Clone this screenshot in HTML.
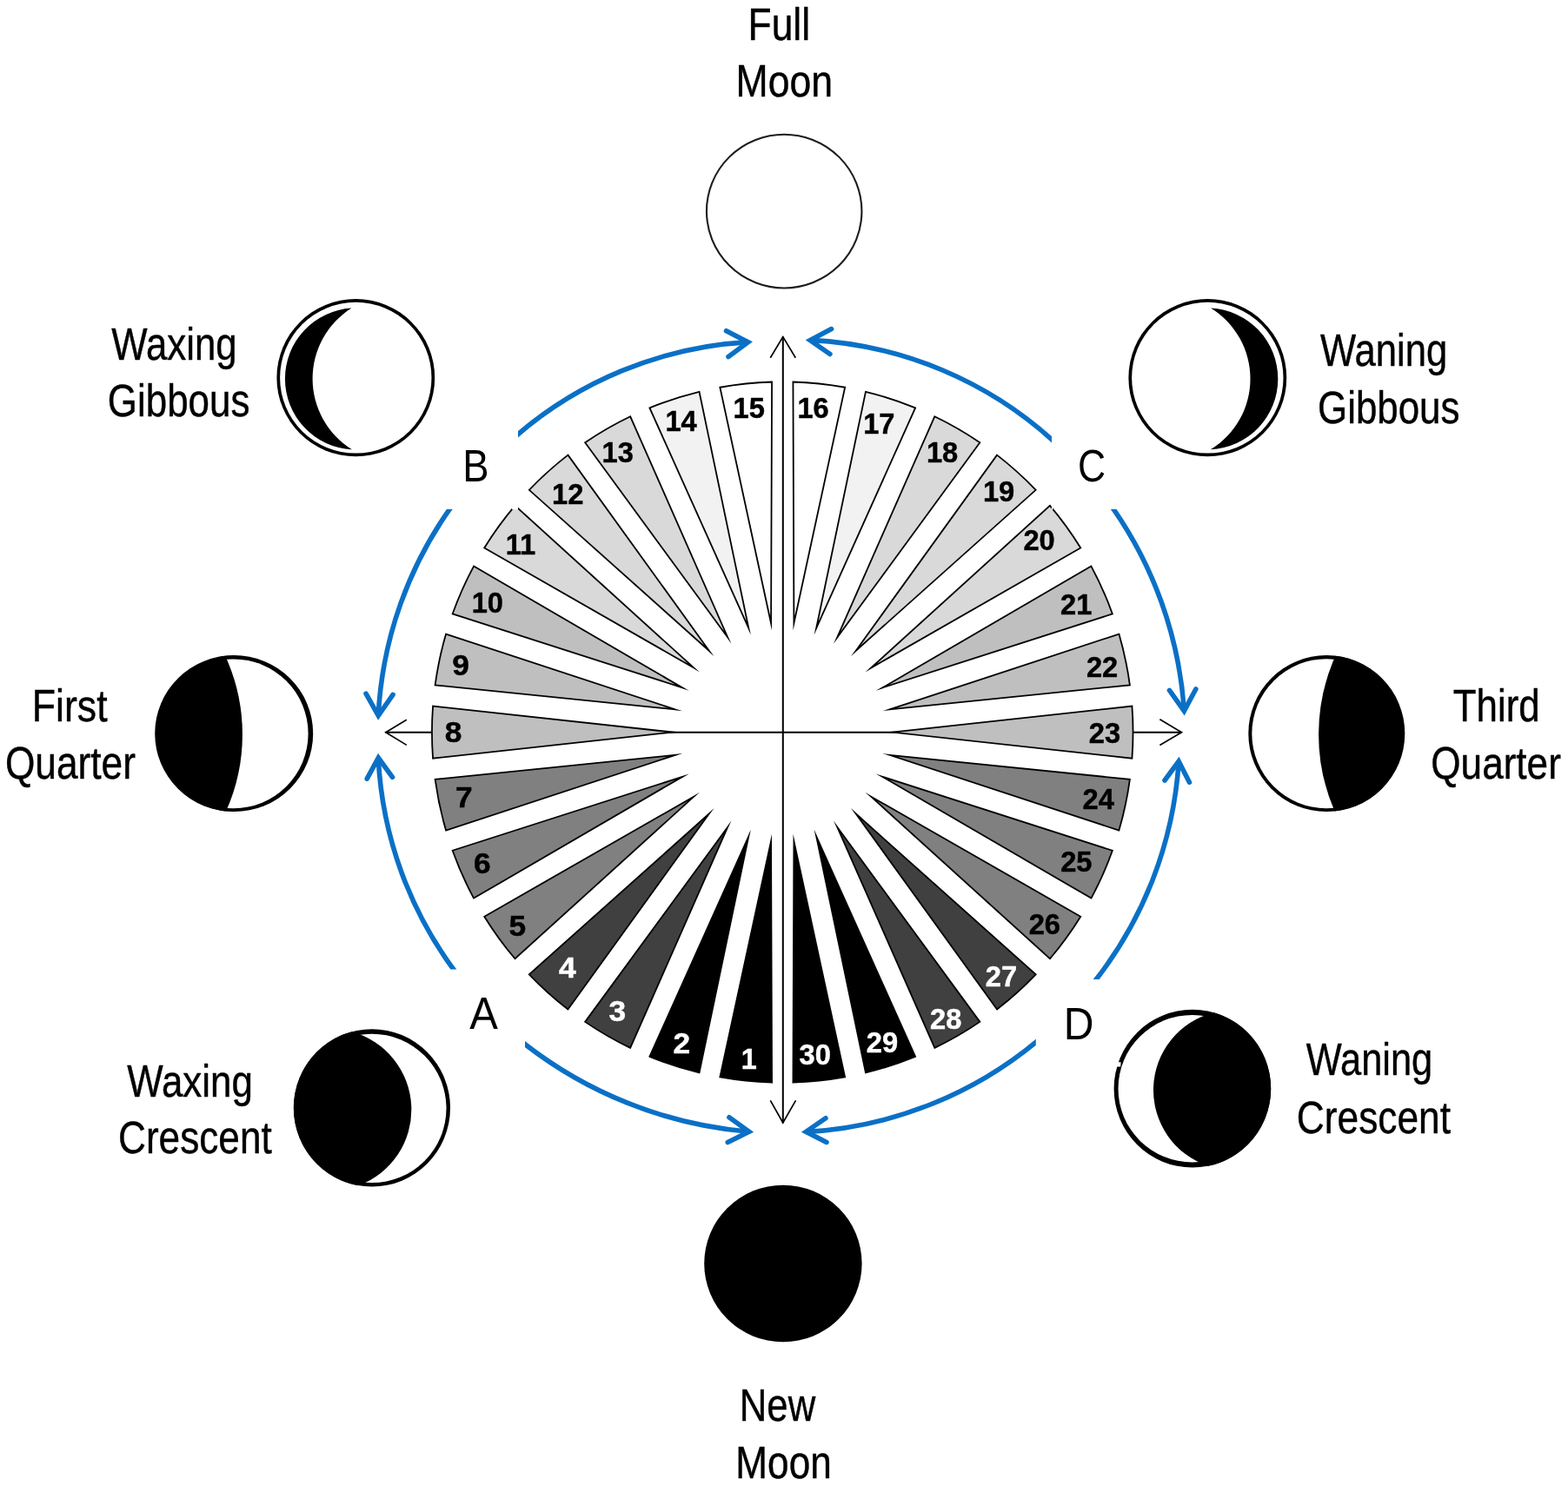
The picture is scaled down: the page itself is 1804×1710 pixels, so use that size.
<!DOCTYPE html>
<html lang="en">
<head>
<meta charset="utf-8">
<title>Moon phases</title>
<style>
html,body{margin:0;padding:0;background:#fff;}
body{width:1804px;height:1710px;overflow:hidden;}
svg{display:block;will-change:transform;}
text{white-space:pre;}
</style>
</head>
<body>
<svg xmlns="http://www.w3.org/2000/svg" width="1804" height="1710" viewBox="0 0 1804 1710">
<rect width="1804" height="1710" fill="#fff"/>
<g stroke="#000" fill="none" stroke-linecap="butt" stroke-linejoin="miter">
<path stroke-width="2.0" d="M443.5 842.7H1359.6"/>
<path stroke-width="2.0" d="M900.8 387.5V1292.2"/>
<path stroke-width="1.7" stroke-miterlimit="10" d="M886.3 411.8L900.8 387.6L915.3 411.8"/>
<path stroke-width="1.7" stroke-miterlimit="10" d="M886.3 1266.3L900.8 1292L915.5 1266.3"/>
<path stroke-width="1.7" stroke-miterlimit="10" d="M467.8 828.2L443.8 842.7L467.8 857.4"/>
<path stroke-width="1.7" stroke-miterlimit="10" d="M1334.4 827.8L1359.4 842.7L1334.4 857.6"/>
</g>
<g stroke="#000" stroke-width="1.8" stroke-linejoin="miter" stroke-miterlimit="20">
<path d="M887.08 967.91L888.07 1245.72A403.3 403.3 0 0 1 828.35 1239.44Z" fill="#000000"/>
<path d="M861.31 962.43L804.53 1234.38A403.3 403.3 0 0 1 747.41 1215.82Z" fill="#000000"/>
<path d="M837.25 951.72L725.17 1205.91A403.3 403.3 0 0 1 673.15 1175.88Z" fill="#404040"/>
<path d="M815.94 936.24L653.45 1161.57A403.3 403.3 0 0 1 608.82 1121.39Z" fill="#404040"/>
<path d="M798.31 916.66L592.53 1103.29A403.3 403.3 0 0 1 557.23 1054.7Z" fill="#808080"/>
<path d="M785.14 893.85L545.05 1033.61A403.3 403.3 0 0 1 520.63 978.75Z" fill="#808080"/>
<path d="M777 868.8L513.1 955.59A403.3 403.3 0 0 1 500.61 896.85Z" fill="#808080"/>
<path d="M774.25 842.6L498.07 872.63A403.3 403.3 0 0 1 498.07 812.57Z" fill="#bfbfbf"/>
<path d="M777 816.4L500.61 788.35A403.3 403.3 0 0 1 513.1 729.61Z" fill="#bfbfbf"/>
<path d="M785.14 791.35L520.63 706.45A403.3 403.3 0 0 1 545.05 651.59Z" fill="#bfbfbf"/>
<path d="M798.31 768.54L557.23 630.5A403.3 403.3 0 0 1 592.53 581.91Z" fill="#d9d9d9"/>
<path d="M815.94 748.96L608.82 563.81A403.3 403.3 0 0 1 653.45 523.63Z" fill="#d9d9d9"/>
<path d="M837.25 733.48L673.15 509.32A403.3 403.3 0 0 1 725.17 479.29Z" fill="#d9d9d9"/>
<path d="M861.31 722.77L747.41 469.38A403.3 403.3 0 0 1 804.53 450.82Z" fill="#f2f2f2"/>
<path d="M887.08 717.29L828.35 445.76A403.3 403.3 0 0 1 888.07 439.48Z" fill="#ffffff"/>
<path d="M913.42 717.29L912.43 439.48A403.3 403.3 0 0 1 972.15 445.76Z" fill="#ffffff"/>
<path d="M939.19 722.77L995.97 450.82A403.3 403.3 0 0 1 1053.09 469.38Z" fill="#f2f2f2"/>
<path d="M963.25 733.48L1075.33 479.29A403.3 403.3 0 0 1 1127.35 509.32Z" fill="#d9d9d9"/>
<path d="M984.56 748.96L1147.05 523.63A403.3 403.3 0 0 1 1191.68 563.81Z" fill="#d9d9d9"/>
<path d="M1002.19 768.54L1207.97 581.91A403.3 403.3 0 0 1 1243.27 630.5Z" fill="#d9d9d9"/>
<path d="M1015.36 791.35L1255.45 651.59A403.3 403.3 0 0 1 1279.87 706.45Z" fill="#bfbfbf"/>
<path d="M1023.5 816.4L1287.4 729.61A403.3 403.3 0 0 1 1299.89 788.35Z" fill="#bfbfbf"/>
<path d="M1026.25 842.6L1302.43 812.57A403.3 403.3 0 0 1 1302.43 872.63Z" fill="#bfbfbf"/>
<path d="M1023.5 868.8L1299.89 896.85A403.3 403.3 0 0 1 1287.4 955.59Z" fill="#808080"/>
<path d="M1015.36 893.85L1279.87 978.75A403.3 403.3 0 0 1 1255.45 1033.61Z" fill="#808080"/>
<path d="M1002.19 916.66L1243.27 1054.7A403.3 403.3 0 0 1 1207.97 1103.29Z" fill="#808080"/>
<path d="M984.56 936.24L1191.68 1121.39A403.3 403.3 0 0 1 1147.05 1161.57Z" fill="#404040"/>
<path d="M963.25 951.72L1127.35 1175.88A403.3 403.3 0 0 1 1075.33 1205.91Z" fill="#404040"/>
<path d="M939.19 962.43L1053.09 1215.82A403.3 403.3 0 0 1 995.97 1234.38Z" fill="#000000"/>
<path d="M913.42 967.91L972.15 1239.44A403.3 403.3 0 0 1 912.43 1245.72Z" fill="#000000"/>
</g>
<rect x="588.9" y="579" width="7.1" height="7.3" fill="#fff"/>
<rect x="1209.9" y="579" width="1.4" height="7.6" fill="#fff"/>
<g font-family="'Liberation Sans', Arial, Helvetica, sans-serif" font-weight="bold" font-size="33" text-anchor="start" stroke-width="0.45" stroke-linejoin="round">
<text transform="translate(852.68 1229.59) scale(0.98 1)" fill="#ffffff" stroke="#ffffff">1</text>
<text transform="translate(774.39 1211.68) scale(1.07 1)" fill="#ffffff" stroke="#ffffff">2</text>
<text transform="translate(700.58 1175.48) scale(1.07 1)" fill="#ffffff" stroke="#ffffff">3</text>
<text transform="translate(643.02 1125.18) scale(1.07 1)" fill="#ffffff" stroke="#ffffff">4</text>
<text transform="translate(585.61 1076.88) scale(1.07 1)" fill="#000000" stroke="#000000">5</text>
<text transform="translate(545 1005.18) scale(1.07 1)" fill="#000000" stroke="#000000">6</text>
<text transform="translate(523.9 929.18) scale(1.07 1)" fill="#000000" stroke="#000000">7</text>
<text transform="translate(511.7 853.78) scale(1.07 1)" fill="#000000" stroke="#000000">8</text>
<text transform="translate(520.2 776.99) scale(1.07 1)" fill="#000000" stroke="#000000">9</text>
<text transform="translate(542.66 705.28) scale(0.99 1)" fill="#000000" stroke="#000000">10</text>
<text transform="translate(581.71 637.78) scale(0.99 1)" fill="#000000" stroke="#000000">11</text>
<text transform="translate(635.06 579.59) scale(0.99 1)" fill="#000000" stroke="#000000">12</text>
<text transform="translate(692.58 531.78) scale(0.99 1)" fill="#000000" stroke="#000000">13</text>
<text transform="translate(765.39 495.58) scale(0.99 1)" fill="#000000" stroke="#000000">14</text>
<text transform="translate(843.61 481.49) scale(0.99 1)" fill="#000000" stroke="#000000">15</text>
<text transform="translate(917.38 481.49) scale(0.99 1)" fill="#000000" stroke="#000000">16</text>
<text transform="translate(993.16 498.88) scale(0.99 1)" fill="#000000" stroke="#000000">17</text>
<text transform="translate(1065.9 531.78) scale(0.99 1)" fill="#000000" stroke="#000000">18</text>
<text transform="translate(1130.88 577.49) scale(0.99 1)" fill="#000000" stroke="#000000">19</text>
<text transform="translate(1177.45 633.18) scale(0.99 1)" fill="#000000" stroke="#000000">20</text>
<text transform="translate(1220.1 707.38) scale(0.99 1)" fill="#000000" stroke="#000000">21</text>
<text transform="translate(1249.95 779.38) scale(0.99 1)" fill="#000000" stroke="#000000">22</text>
<text transform="translate(1252.77 855.28) scale(0.99 1)" fill="#000000" stroke="#000000">23</text>
<text transform="translate(1245.48 931.49) scale(0.99 1)" fill="#000000" stroke="#000000">24</text>
<text transform="translate(1220.2 1003.28) scale(0.99 1)" fill="#000000" stroke="#000000">25</text>
<text transform="translate(1183.67 1075.48) scale(0.99 1)" fill="#000000" stroke="#000000">26</text>
<text transform="translate(1133.75 1135.48) scale(0.99 1)" fill="#ffffff" stroke="#ffffff">27</text>
<text transform="translate(1069.99 1183.88) scale(0.99 1)" fill="#ffffff" stroke="#ffffff">28</text>
<text transform="translate(996.87 1211.38) scale(0.99 1)" fill="#ffffff" stroke="#ffffff">29</text>
<text transform="translate(919.51 1225.29) scale(0.99 1)" fill="#ffffff" stroke="#ffffff">30</text>
</g>
<defs>
<clipPath id="cut0"><rect x="596.1" y="0" width="1207.9" height="1710"/></clipPath>
<clipPath id="cut1"><rect x="0" y="586.1" width="1804" height="1123.9"/></clipPath>
<clipPath id="cut2"><rect x="0" y="0" width="1804" height="1115.6"/></clipPath>
<clipPath id="cut3"><rect x="604.1" y="0" width="1199.9" height="1710"/></clipPath>
<clipPath id="cut4"><rect x="0" y="0" width="1210" height="1710"/></clipPath>
<clipPath id="cut5"><rect x="0" y="586.1" width="1804" height="1123.9"/></clipPath>
<clipPath id="cut6"><rect x="0" y="0" width="1804" height="1127.1"/></clipPath>
<clipPath id="cut7"><rect x="0" y="0" width="1191.8" height="1710"/></clipPath>
</defs>
<g stroke="#0a70c6" stroke-width="5.6" fill="none">
<path clip-path="url(#cut0)" d="M589.21 505.61A446.99 446.99 0 0 1 860.66 393.66"/>
<path stroke-linecap="round" stroke-linejoin="miter" stroke-miterlimit="10" d="M835.54 380.76L860.66 393.79L838.03 410.5"/>
<path clip-path="url(#cut1)" d="M522.25 579.09A452.16 452.16 0 0 0 435.23 823.51"/>
<path stroke-linecap="round" stroke-linejoin="miter" stroke-miterlimit="10" d="M421.03 798.2L435.26 823.52L452.06 799.37"/>
<path clip-path="url(#cut2)" d="M526.58 1121.91A448.84 448.84 0 0 1 435.22 872.09"/>
<path stroke-linecap="round" stroke-linejoin="miter" stroke-miterlimit="10" d="M422.21 896.19L435.33 872.09L451.52 894.36"/>
<path clip-path="url(#cut3)" d="M597.73 1196.63A487.21 487.21 0 0 0 861.78 1302.29"/>
<path stroke-linecap="round" stroke-linejoin="miter" stroke-miterlimit="10" d="M838.94 1285.77L861.79 1302.24L837.26 1314.48"/>
<path clip-path="url(#cut4)" d="M1215.65 510.86A447.71 447.71 0 0 0 932.08 391.42"/>
<path stroke-linecap="round" stroke-linejoin="miter" stroke-miterlimit="10" d="M956.57 378.58L932.07 391.53L954.93 407.46"/>
<path clip-path="url(#cut5)" d="M1276.31 579.05A462.08 462.08 0 0 1 1362.39 818.15"/>
<path stroke-linecap="round" stroke-linejoin="miter" stroke-miterlimit="10" d="M1345.46 794.45L1362.35 818.16L1375.81 793.02"/>
<path clip-path="url(#cut6)" d="M1255.92 1133.66A456.4 456.4 0 0 0 1356.2 876.11"/>
<path stroke-linecap="round" stroke-linejoin="miter" stroke-miterlimit="10" d="M1339.99 897.97L1356.09 876.1L1368.45 900.16"/>
<path clip-path="url(#cut7)" d="M1198.09 1193.91A453.98 453.98 0 0 1 927.32 1302.44"/>
<path stroke-linecap="round" stroke-linejoin="miter" stroke-miterlimit="10" d="M949.92 1286.73L927.31 1302.31L950.96 1314.45"/>
</g>
<ellipse cx="902.2" cy="243.1" rx="89.25" ry="88.35" fill="#fff" stroke="#1c1c1c" stroke-width="2.1"/>
<ellipse cx="900.9" cy="1454" rx="90.7" ry="90.3" fill="#000"/>
<ellipse cx="409.3" cy="434.7" rx="90.9" ry="90.6" fill="#000"/>
<ellipse cx="409.3" cy="434.7" rx="87.2" ry="86.9" fill="#fff"/>
<path d="M404.4 354.6A81.49 81.49 0 0 0 404.9 517.3A95.98 95.98 0 0 1 404.4 354.6Z" fill="#000"/>
<ellipse cx="1389.3" cy="434.7" rx="90.9" ry="90.6" fill="#000"/>
<ellipse cx="1389.3" cy="434.7" rx="87.2" ry="86.9" fill="#fff"/>
<path d="M1393 354.6A81.45 81.45 0 0 1 1392.8 517.3A95.36 95.36 0 0 0 1393 354.6Z" fill="#000"/>
<ellipse cx="269.2" cy="844.1" rx="91" ry="90" fill="#000"/>
<ellipse cx="268.7" cy="844.3" rx="85.9" ry="85.9" fill="#fff"/>
<path d="M259.25 754.96A91 90 0 0 0 260.01 933.57A216.59 216.59 0 0 0 259.25 754.96Z" fill="#000"/>
<ellipse cx="1526.3" cy="844.1" rx="90" ry="90" fill="#000"/>
<ellipse cx="1526.3" cy="844.2" rx="86" ry="86" fill="#fff"/>
<path d="M1536.44 754.69A90 90 0 0 1 1535.49 933.42A221.15 221.15 0 0 1 1536.44 754.69Z" fill="#000"/>
<ellipse cx="427.9" cy="1274.9" rx="90.1" ry="90.7" fill="#000"/>
<ellipse cx="427.9" cy="1275.4" rx="85.6" ry="85.7" fill="#fff"/>
<path d="M404.75 1187.26A90.1 90.7 0 0 0 412.46 1364.2A92.95 92.95 0 0 0 404.75 1187.26Z" fill="#000"/>
<ellipse cx="1371.9" cy="1252.7" rx="90.3" ry="90.9" fill="#000"/>
<ellipse cx="1371.9" cy="1252.7" rx="85.4" ry="84.8" fill="#fff"/>
<path d="M1396.17 1165.17A90.3 90.9 0 0 1 1389.96 1341.75A92.1 92.1 0 0 1 1396.17 1165.17Z" fill="#000"/>
<path d="M1283 1222.2L1289.6 1222.2L1289.2 1227.6L1283 1227.6Z" fill="#fff"/>
<g font-family="'Liberation Sans', Arial, Helvetica, sans-serif" font-size="52.6" fill="#000" stroke="#000" stroke-width="0.45" stroke-linejoin="round">
<text transform="translate(860.54 45.8) scale(0.8438 1)">Full</text>
<text transform="translate(846.62 111.2) scale(0.8478 1)">Moon</text>
<text transform="translate(128.17 413.7) scale(0.8330 1)">Waxing</text>
<text transform="translate(123.79 479.4) scale(0.8353 1)">Gibbous</text>
<text transform="translate(36.82 829.6) scale(0.8488 1)">First</text>
<text transform="translate(5.9 895.8) scale(0.8416 1)">Quarter</text>
<text transform="translate(146.17 1261.9) scale(0.8342 1)">Waxing</text>
<text transform="translate(135.98 1327.3) scale(0.8401 1)">Crescent</text>
<text transform="translate(1519.07 421.4) scale(0.8289 1)">Waning</text>
<text transform="translate(1515.99 487.2) scale(0.8347 1)">Gibbous</text>
<text transform="translate(1671.69 829.5) scale(0.8353 1)">Third</text>
<text transform="translate(1646.3 895.8) scale(0.8388 1)">Quarter</text>
<text transform="translate(1502.67 1237.2) scale(0.8254 1)">Waning</text>
<text transform="translate(1491.87 1303.5) scale(0.8420 1)">Crescent</text>
<text transform="translate(850.79 1635.3) scale(0.8308 1)">New</text>
<text transform="translate(846.36 1700.9) scale(0.8389 1)">Moon</text>
</g>
<g font-family="'Liberation Sans', Arial, Helvetica, sans-serif" fill="#000">
<text font-size="51.59" transform="translate(532.27 553.9) scale(0.8803 1)">B</text>
<text font-size="52.32" transform="translate(540.36 1184.2) scale(0.9354 1)">A</text>
<text font-size="51.3" transform="translate(1239.98 553.7) scale(0.8663 1)">C</text>
<text font-size="52.03" transform="translate(1223.75 1195.9) scale(0.9239 1)">D</text>
</g>
</svg>
</body>
</html>
